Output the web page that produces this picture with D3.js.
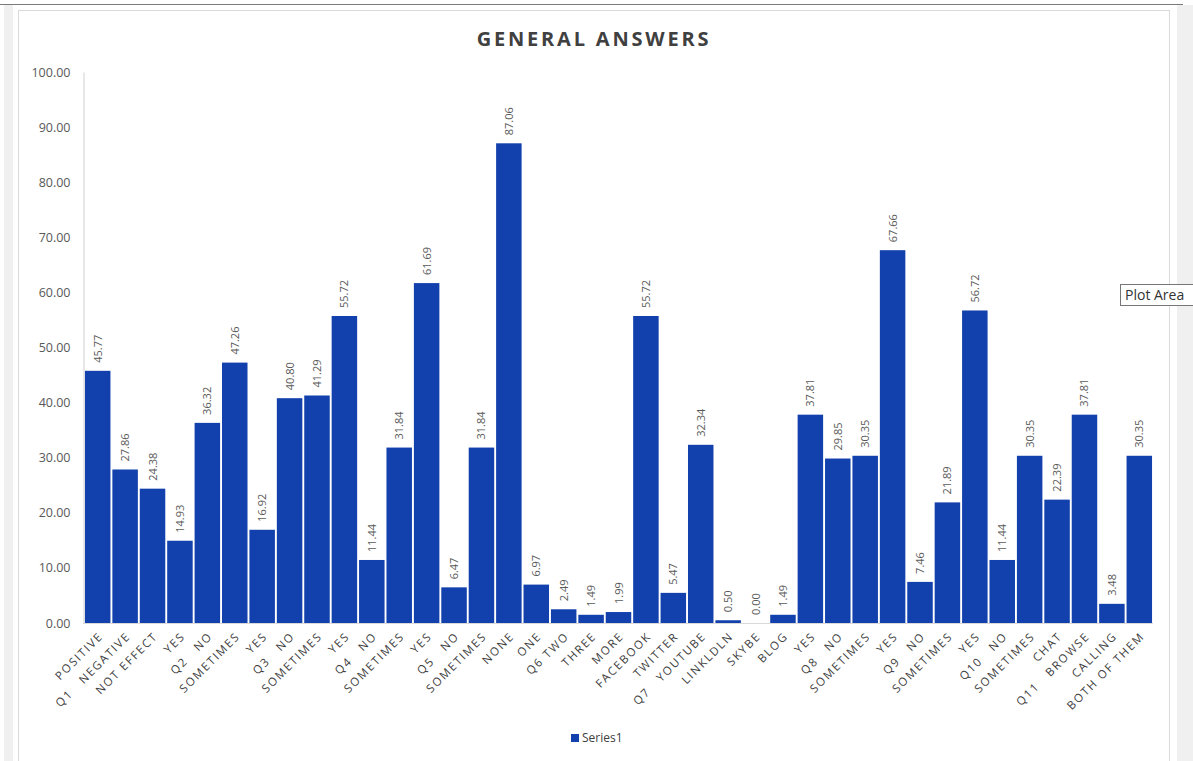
<!DOCTYPE html>
<html>
<head>
<meta charset="utf-8">
<script src="https://cdn.jsdelivr.net/npm/d3@7"></script>
<style>
  body { margin: 0; background: #fff; font-family: "Open Sans", Lato, sans-serif; }
  svg { display: block; }
</style>
</head>
<body>
<script>
// categories (group label is written into the middle item of each question)
var categories = [
    'POSITIVE', 'Q1   NEGATIVE', 'NOT EFFECT',
    'YES', 'Q2   NO', 'SOMETIMES',
    'YES', 'Q3   NO', 'SOMETIMES',
    'YES', 'Q4   NO', 'SOMETIMES',
    'YES', 'Q5   NO', 'SOMETIMES',
    'NONE', 'ONE', 'Q6 TWO', 'THREE', 'MORE',
    'FACEBOOK', 'TWITTER', 'Q7   YOUTUBE', 'LINKLDLN', 'SKYBE', 'BLOG',
    'YES', 'Q8   NO', 'SOMETIMES',
    'YES', 'Q9   NO', 'SOMETIMES',
    'YES', 'Q10   NO', 'SOMETIMES',
    'CHAT', 'Q11   BROWSE', 'CALLING', 'BOTH OF THEM'
];
var series1 = [
    45.77, 27.86, 24.38,
    14.93, 36.32, 47.26,
    16.92, 40.80, 41.29,
    55.72, 11.44, 31.84,
    61.69, 6.47, 31.84,
    87.06, 6.97, 2.49, 1.49, 1.99,
    55.72, 5.47, 32.34, 0.50, 0.00, 1.49,
    37.81, 29.85, 30.35,
    67.66, 7.46, 21.89,
    56.72, 11.44, 30.35,
    22.39, 37.81, 3.48, 30.35
];
var yTicks = [0, 10, 20, 30, 40, 50, 60, 70, 80, 90, 100];
var title = 'GENERAL ANSWERS';
var seriesName = 'Series1';

var width = 1193, height = 761;
var barColor = '#1240ad';

var data = categories.map(function (c, i) { return { cat: c, value: series1[i], idx: i }; });

var svg = d3.select('body').append('svg').attr('width', width).attr('height', height);

// window chrome around the chart
svg.append('rect').attr('x', 0).attr('y', 0).attr('width', width).attr('height', height).attr('fill', '#fff');
svg.append('rect').attr('x', 4).attr('y', 5).attr('width', 9).attr('height', height).attr('fill', '#f0f0f0');
svg.append('rect').attr('x', 1177).attr('y', 5).attr('width', 16).attr('height', height).attr('fill', '#f0f0f0');
svg.append('line').attr('x1', 0).attr('x2', 1183).attr('y1', 4.5).attr('y2', 4.5)
    .attr('stroke', '#7a7a7a').attr('stroke-width', 1);
svg.append('rect').attr('x', 18.5).attr('y', 10.5).attr('width', 1151).attr('height', 760)
    .attr('fill', '#fff').attr('stroke', '#d9d9d9').attr('stroke-width', 1);

var margin = { left: 84, right: 1153, top: 72, bottom: 623 };

var x = d3.scaleBand()
    .domain(d3.range(categories.length))
    .range([margin.left, margin.right])
    .paddingInner(0.07)
    .paddingOuter(0.035);

var y = d3.scaleLinear().domain([0, 100]).range([margin.bottom, margin.top]);

// title
svg.append('text')
    .attr('x', 594).attr('y', 46)
    .attr('text-anchor', 'middle')
    .style('font-family', '"Open Sans", sans-serif')
    .style('font-weight', 'bold')
    .style('font-size', '20px')
    .style('letter-spacing', '2.8px')
    .style('fill', '#404040')
    .text(title);

// y axis
var yAxis = d3.axisLeft(y).tickValues(yTicks).tickFormat(d3.format('.2f')).tickSize(0).tickPadding(13);
var gy = svg.append('g').attr('transform', 'translate(' + (margin.left - 0.5) + ',0)').call(yAxis);
gy.select('.domain').attr('stroke', '#d0d0d0');
gy.selectAll('text')
    .style('font-family', '"Open Sans", sans-serif')
    .style('font-size', '12.5px')
    .style('fill', '#595959');

// bars
svg.selectAll('rect.bar')
    .data(data)
    .enter()
    .append('rect')
    .attr('class', 'bar')
    .attr('x', function (d) { return x(d.idx); })
    .attr('y', function (d) { return y(d.value); })
    .attr('width', x.bandwidth())
    .attr('height', function (d) { return y(0) - y(d.value); })
    .attr('fill', barColor);

// x axis line
svg.append('line')
    .attr('x1', margin.left - 1).attr('x2', margin.right)
    .attr('y1', margin.bottom + 0.5).attr('y2', margin.bottom + 0.5)
    .attr('stroke', '#d9d9d9');

// value labels (rotated)
svg.selectAll('text.val')
    .data(data)
    .enter()
    .append('text')
    .attr('class', 'val')
    .attr('transform', function (d) {
        return 'translate(' + (x(d.idx) + x.bandwidth() / 2 + 4) + ',' + (y(d.value) - 8) + ') rotate(-90)';
    })
    .style('font-family', '"Open Sans", sans-serif')
    .style('font-size', '11px')
    .style('fill', '#595959')
    .text(function (d) { return d3.format('.2f')(d.value); });

// category labels (rotated -45)
svg.selectAll('text.cat')
    .data(data)
    .enter()
    .append('text')
    .attr('class', 'cat')
    .attr('text-anchor', 'end')
    .attr('transform', function (d) {
        return 'translate(' + (x(d.idx) + x.bandwidth() / 2 + 6) + ',' + (margin.bottom + 14) + ') rotate(-45)';
    })
    .style('font-family', '"Open Sans", sans-serif')
    .style('font-size', '11.5px')
    .style('letter-spacing', '1.7px')
    .style('fill', '#404040')
    .style('white-space', 'pre')
    .text(function (d) { return d.cat; });

// legend
svg.append('rect').attr('x', 571).attr('y', 734).attr('width', 8).attr('height', 8).attr('fill', barColor);
svg.append('text')
    .attr('x', 582).attr('y', 742)
    .style('font-family', '"Open Sans", sans-serif')
    .style('font-size', '12px')
    .style('fill', '#404040')
    .text(seriesName);

// "Plot Area" hover tip
var tip = svg.append('g').attr('transform', 'translate(1120,284)');
tip.append('rect').attr('x', 0.5).attr('y', 0.5).attr('width', 80).attr('height', 21)
    .attr('fill', '#fff').attr('stroke', '#767676');
tip.append('text').attr('x', 5).attr('y', 16)
    .style('font-family', '"Open Sans", sans-serif')
    .style('font-size', '14px')
    .style('fill', '#333')
    .text('Plot Area');
</script>
</body>
</html>
